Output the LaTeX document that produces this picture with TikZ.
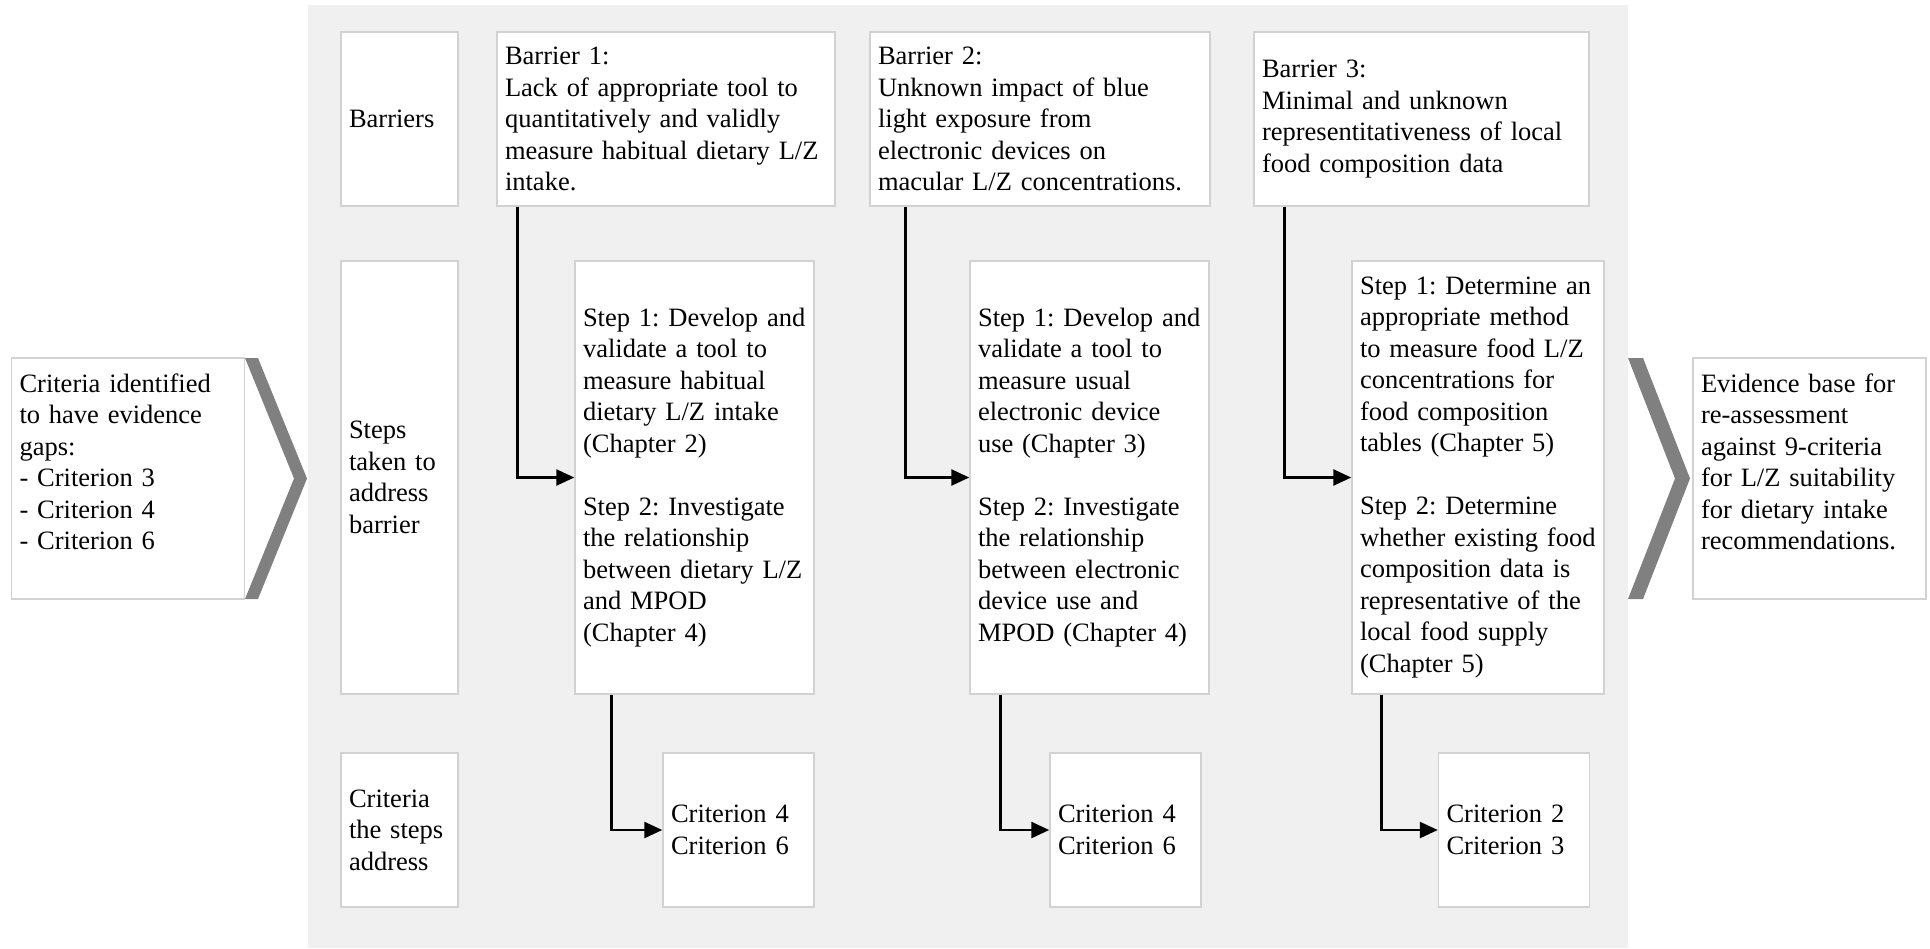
\documentclass[tikz,border=0pt]{standalone}
\usepackage{fontspec}
\setmainfont{Liberation Serif}
\usetikzlibrary{arrows.meta, calc}
\definecolor{panelgray}{HTML}{F0F0F0}
\definecolor{boxline}{HTML}{D2D2D2}
\definecolor{chevgray}{HTML}{808080}
\frenchspacing

\begin{document}
\begin{tikzpicture}[
        x=0.5pt, y=-0.5pt,
        box/.style={draw=boxline, line width=0.75pt, fill=white, rectangle, inner xsep=4pt, inner ysep=0pt, align=left, font=\fontsize{13.25}{15.75}\selectfont\frenchspacing},
        labelbox/.style={box, text width=50.5pt},
        barbox/.style={box, minimum height=87pt},
        stepbox/.style={box, minimum height=216.5pt},
        critbox/.style={box, text width=67.5pt, minimum height=77pt},
        sidebox/.style={box, text width=108.5pt, text height=9pt, text depth=95.5pt, minimum height=120.5pt},
        chevron/.style={fill=chevgray},
        arrow/.style={-{Triangle[length=9pt,width=8pt]}, line width=1.3pt}
    ]
        \useasboundingbox (0,0) rectangle (1930,948);
        % Background panel and chevrons
        \fill[panelgray] (308,5) rectangle (1628,948);
        \fill[chevron] (245,358) -- (258,358) -- (307,478.5) -- (258,599) -- (245,599) -- (294,478.5) -- cycle;
        \fill[chevron] (1628,358) -- (1643,358) -- (1690,478.5) -- (1643,599) -- (1628,599) -- (1675,478.5) -- cycle;

        % Nodes
        \node[sidebox] (gaps) at (128,478.5) {Criteria identified\\to have evidence\\gaps:\\- Criterion 3\\- Criterion 4\\- Criterion 6};
        \node[sidebox] (evid) at (1809.5,478.5) {Evidence base for\\re-assessment\\against 9-criteria\\for L/Z suitability\\for dietary intake\\recommendations.};

        \node[labelbox, minimum height=87pt] (labbar) at (399.5,119) {Barriers};
        \node[labelbox, minimum height=216.5pt] (labstep) at (399.5,477.5) {Steps\\taken to\\address\\barrier};
        \node[labelbox, minimum height=77pt] (labcrit) at (399.5,830) {Criteria\\the steps\\address};

        \node[barbox, text width=161pt] (bar1) at (666,119) {Barrier 1:\\Lack of appropriate tool to\\quantitatively and validly\\measure habitual dietary L/Z\\intake.};
        \node[barbox, text width=162pt] (bar2) at (1040,119) {Barrier 2:\\Unknown impact of blue\\light exposure from\\electronic devices on\\macular L/Z concentrations.};
        \node[barbox, text width=159.5pt] (bar3) at (1421.5,119) {Barrier 3:\\Minimal and unknown\\representitativeness of local\\food composition data};

        \node[stepbox, text width=111.5pt] (step1) at (694.5,477.5) {Step 1: Develop and\\validate a tool to\\measure habitual\\dietary L/Z intake\\(Chapter 2)\\[15.75pt]Step 2: Investigate\\the relationship\\between dietary L/Z\\and MPOD\\(Chapter 4)};
        \node[stepbox, text width=111.5pt] (step2) at (1089.5,477.5) {Step 1: Develop and\\validate a tool to\\measure usual\\electronic device\\use (Chapter 3)\\[15.75pt]Step 2: Investigate\\the relationship\\between electronic\\device use and\\MPOD (Chapter 4)};
        \node[stepbox, text width=118pt] (step3) at (1478,477.5) {Step 1: Determine an\\appropriate method\\to measure food L/Z\\concentrations for\\food composition\\tables (Chapter 5)\\[15.75pt]Step 2: Determine\\whether existing food\\composition data is\\representative of the\\local food supply\\(Chapter 5)};

        \node[critbox] (crit1) at (738.5,830) {Criterion 4\\Criterion 6};
        \node[critbox] (crit2) at (1125.5,830) {Criterion 4\\Criterion 6};
        \node[critbox] (crit3) at (1514,830) {Criterion 2\\Criterion 3};

        % Arrows
        \draw[arrow] ($(bar1.south west)+(21,0)$) |- (step1);
        \draw[arrow] ($(bar2.south west)+(36,0)$) |- (step2);
        \draw[arrow] ($(bar3.south west)+(31,0)$) |- (step3);
        \draw[arrow] ($(step1.south west)+(37,0)$) |- (crit1);
        \draw[arrow] ($(step2.south west)+(31,0)$) |- (crit2);
        \draw[arrow] ($(step3.south west)+(30,0)$) |- (crit3);
    \end{tikzpicture}
\end{document}
